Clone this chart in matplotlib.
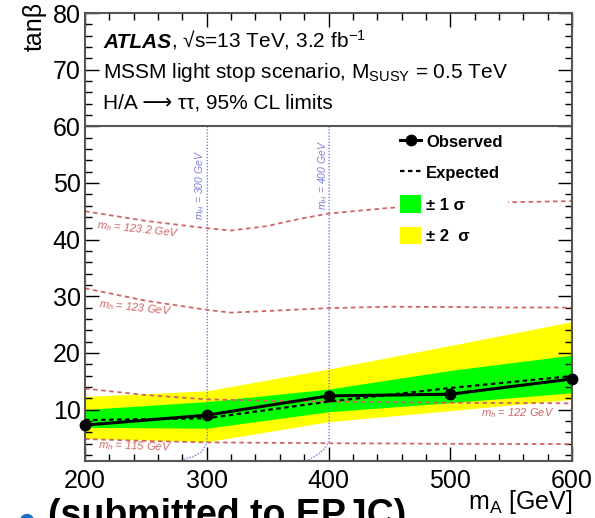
import matplotlib
matplotlib.use("Agg")
import matplotlib.pyplot as plt
from matplotlib.ticker import MultipleLocator

plt.rcParams['font.family'] = ['Liberation Sans', 'DejaVu Sans']
plt.rcParams['mathtext.fontset'] = 'custom'
plt.rcParams['mathtext.rm'] = 'Liberation Sans'
plt.rcParams['mathtext.it'] = 'Liberation Sans:italic'
plt.rcParams['mathtext.bf'] = 'Liberation Sans:bold'

# Limites observées / attendues (m_A en GeV, tan beta)
m_A = [200, 300, 400, 500, 600]
observed = [7.25, 9.0, 12.4, 12.7, 15.4]
expected = [8.15, 8.45, 11.4, 13.8, 15.9]
sigma1_up = [10.0, 11.4, 13.6, 16.9, 19.6]
sigma1_dn = [6.85, 6.7, 9.6, 11.2, 12.95]
sigma2_up = [12.3, 13.3, 17.15, 21.3, 25.5]
sigma2_dn = [4.9, 4.3, 7.85, 9.8, 11.8]

# Contours m_h (rouge)
mh1232_x = [200, 250, 300, 320, 350, 375, 400, 450, 500, 550, 600]
mh1232_y = [45.0, 43.3, 42.0, 41.6, 42.4, 43.6, 44.6, 45.6, 46.1, 46.6, 46.8]
mh123_x = [200, 250, 300, 320, 350, 400, 450, 500, 550, 600]
mh123_y = [31.4, 29.2, 27.6, 27.1, 27.4, 27.9, 28.15, 28.1, 28.0, 28.0]
mh122_x = [200, 250, 300, 350, 400, 500, 600]
mh122_y = [13.7, 12.55, 11.8, 11.55, 11.4, 11.2, 11.1]
mh115_x = [200, 250, 300, 400, 500, 600]
mh115_y = [4.8, 4.45, 4.2, 4.05, 3.95, 3.9]

# Contours m_H (bleu)
mH300_x = [300.5, 300.5, 300.0, 299.2, 295.8, 289.0, 278.0]
mH300_y = [60, 5.5, 4.5, 3.7, 2.55, 1.67, 1.0]
mH400_x = [400.5, 400.5, 400.2, 397.1, 391.6, 386.2, 382.1]
mH400_y = [60, 5.5, 4.3, 3.15, 2.15, 1.39, 1.0]

RED = '#d26464'
BLUE = '#7c7cdc'
GREY = '#555555'

fig = plt.figure(figsize=(5.95, 5.18), dpi=100)
ax = fig.add_axes([85 / 595, 1 - 460.5 / 518, 487 / 595, 447.5 / 518])

# Bandes
band2 = ax.fill_between(m_A, sigma2_dn, sigma2_up, color='#ffff00', lw=0)
band1 = ax.fill_between(m_A, sigma1_dn, sigma1_up, color='#00ff00', lw=0)

# Contours
red_style = dict(color=RED, lw=1.3, ls=(0, (2.5, 2)), zorder=2)
ax.plot(mh1232_x, mh1232_y, **red_style)
ax.plot(mh123_x, mh123_y, **red_style)
ax.plot(mh122_x, mh122_y, **red_style)
ax.plot(mh115_x, mh115_y, **red_style)

blue_style = dict(color=BLUE, lw=1.0, ls=(0, (1, 1.2)), zorder=2)
ax.plot(mH300_x, mH300_y, **blue_style)
ax.plot(mH400_x, mH400_y, **blue_style)

# Limites
exp_line, = ax.plot(m_A, expected, color='black', lw=1.6, ls=(0, (2, 1.6)), zorder=3)
obs_line, = ax.plot(m_A, observed, color='black', lw=2.2, marker='o',
                    markersize=7.5, zorder=4, clip_on=False)

# Etiquettes des contours
lab = dict(color=RED, fontsize=8, style='italic', ha='center', va='center')
ax.text(243.5, 41.8, '$m_{h}$ = 123.2 GeV', rotation=-6, **lab)
ax.text(241.3, 28.0, '$m_{h}$ = 123 GeV', rotation=-6, **lab)
ax.text(241.0, 3.5, '$m_{h}$ = 115 GeV', rotation=-2, **lab)
ax.text(555.0, 9.3, '$m_{h}$ = 122 GeV', **lab)

blab = dict(color=BLUE, fontsize=7.5, style='italic', rotation=90, ha='center', va='bottom')
ax.text(294.5, 43.4, '$m_{H}$ = 300 GeV', **blab)
ax.text(395.2, 45.2, '$m_{H}$ = 400 GeV', **blab)

# Zone de texte supérieure
ax.axhline(60, color=GREY, lw=1.5, zorder=5)
t1 = ax.text(215, 73.8, 'ATLAS', fontsize=15, weight='bold', style='italic', va='baseline')
ax.annotate(', √s=13 TeV, 3.2 fb$^{-1}$', xy=(1, 0), xycoords=t1, fontsize=15,
            va='bottom', ha='left')
ax.text(215, 68.5, 'MSSM light stop scenario, M$_{\\mathrm{SUSY}}$ = 0.5 TeV',
        fontsize=15, va='baseline')
ax.text(215, 63.2, 'H/A ⟶ ττ, 95% CL limits', fontsize=15, va='baseline')

# Axes
ax.set_xlim(200, 600)
ax.set_ylim(1, 80)
ax.xaxis.set_major_locator(MultipleLocator(100))
ax.xaxis.set_minor_locator(MultipleLocator(20))
ax.yaxis.set_major_locator(MultipleLocator(10))
ax.yaxis.set_minor_locator(MultipleLocator(2))
ax.tick_params(which='both', direction='in', top=True, right=True,
               colors='black', width=1.0, labelsize=18)
ax.tick_params(which='major', length=10, pad=3)
ax.tick_params(which='minor', length=5)
ax.tick_params(axis='x', pad=6)
for sp in ax.spines.values():
    sp.set_color(GREY)
    sp.set_linewidth(1.5)

fig.text(35 / 595, 1 - 2 / 518, 'tanβ', rotation=90, fontsize=18, ha='center', va='top')
fig.text(572 / 595, 1 - 509 / 518, 'm$_{\\mathrm{A}}$ [GeV]', fontsize=18,
         ha='right', va='baseline')

# Légende
leg = ax.legend([obs_line, exp_line, band1, band2],
                ['Observed', 'Expected', '± 1 σ', '± 2  σ'],
                loc='upper left', bbox_to_anchor=(0.637, 0.744),
                borderaxespad=0, borderpad=0.3, handlelength=1.26,
                handleheight=1.26, handletextpad=0.3, labelspacing=0.82,
                frameon=True, fancybox=False, framealpha=1,
                prop={'weight': 'bold', 'size': 12})
leg.get_frame().set_facecolor('white')
leg.get_frame().set_edgecolor('none')

# Bas de diapositive (coupé)
fig.text(16 / 595, 1 - 530 / 518, '●', color='#1f6fc4', fontsize=24, va='baseline')
fig.text(48 / 595, 1 - 526 / 518, '(submitted to EPJC)', fontsize=27,
         weight='bold', va='baseline')

fig.savefig('out.png', dpi=100)
